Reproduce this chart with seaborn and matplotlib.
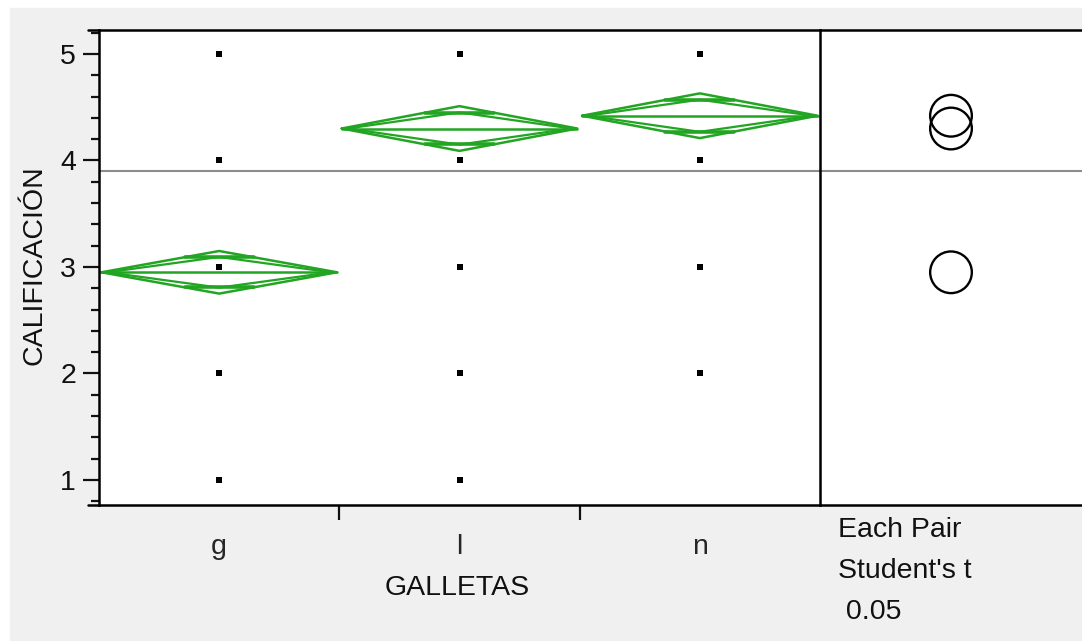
import numpy as np
import pandas as pd
import matplotlib
matplotlib.use('Agg')
import matplotlib.pyplot as plt
import seaborn as sns
from matplotlib.ticker import MultipleLocator
from matplotlib.lines import Line2D
from matplotlib.patches import Rectangle

#==============================================================================
# Data
#==============================================================================
groups = ['g', 'l', 'n']
point_groups = ['g'] * 5 + ['l'] * 5 + ['n'] * 4
point_values = [1, 2, 3, 4, 5, 1, 2, 3, 4, 5, 2, 3, 4, 5]
means = [2.95, 4.30, 4.42]
ci_half = [0.20, 0.21, 0.21]
grand_mean = 3.90
yticks = [1, 2, 3, 4, 5]
test_text = ['Each Pair', "Student's t", ' 0.05']

GREEN = '#22a522'
INK = '#111111'
FS = 20.5
W, H = 1082, 641

#==============================================================================
# Figure
#==============================================================================
sns.set_theme(style='white')
plt.rcParams['font.family'] = ['Liberation Sans', 'DejaVu Sans']
plt.rcParams['text.color'] = INK
plt.rcParams['axes.labelcolor'] = INK

fig = plt.figure(figsize=(W / 100, H / 100), dpi=100)
fig.patch.set_facecolor('white')
fig.add_artist(Rectangle((10 / W, 0), 1, 1 - 8 / H, transform=fig.transFigure,
                         color='#f0f0f0', zorder=-10))

ax = fig.add_axes([99 / W, 1 - 505 / H, (820 - 99) / W, 475 / H])
ax2 = fig.add_axes([820 / W, 1 - 505 / H, 262 / W, 475 / H], sharey=ax)
ax.set_zorder(2)

# raw points
sns.stripplot(x=point_groups, y=point_values, order=groups, jitter=False,
              color='black', marker='s', size=4.2, ax=ax, zorder=5)

# means diamonds
for i, (m, h) in enumerate(zip(means, ci_half)):
    w = 0.49
    ax.plot([i - w, i, i + w, i, i - w], [m, m + h, m, m - h, m], color=GREEN, lw=1.8)
    hi = 0.72 * h
    wi = 0.95 * w
    ax.plot([i - wi, i, i + wi, i, i - wi], [m, m + hi, m, m - hi, m], color=GREEN, lw=1.6)
    ax.plot([i - w, i + w], [m, m], color=GREEN, lw=1.8)
    d = h / np.sqrt(2)
    ow = w * (1 - 1 / np.sqrt(2))
    for s in (1, -1):
        ax.plot([i - ow, i + ow], [m + s * d] * 2, color=GREEN, lw=2.6)

ax.axhline(grand_mean, color='#8c8c8c', lw=1.5, zorder=1)
ax2.axhline(grand_mean, color='#8c8c8c', lw=1.5, zorder=1)

# comparison circles
sns.scatterplot(x=[0.5] * len(means), y=means, ax=ax2, s=900, marker='o',
                facecolor='none', edgecolor='black', linewidth=1.7, legend=False)

#==============================================================================
# Axes styling
#==============================================================================
ax.set_ylim(0.765, 5.225)
ax.set_xlim(-0.5, 2.5)
ax2.set_xlim(0, 1)

ax.set_yticks(yticks)
ax.yaxis.set_minor_locator(MultipleLocator(0.2))
ax.tick_params(axis='y', which='major', left=True, length=11.5, width=1.6,
               direction='out', labelsize=FS, pad=5, colors=INK)
ax.tick_params(axis='y', which='minor', left=True, length=5.8, width=1.6,
               direction='out', colors=INK)
ax.set_xticks([0, 1, 2])
ax.set_xticklabels(groups)
ax.set_xticks([0.5, 1.5], minor=True)
ax.tick_params(axis='x', which='major', bottom=True, length=0, pad=21, labelsize=FS)
ax.tick_params(axis='x', which='minor', bottom=True, length=11, width=1.6,
               direction='out', colors=INK)

for sp in ax.spines.values():
    sp.set_visible(True)
    sp.set_color('black')
    sp.set_linewidth(1.8)
for name, sp in ax2.spines.items():
    sp.set_color('black')
    sp.set_linewidth(1.8)
    sp.set_visible(name in ('top', 'bottom'))
ax2.tick_params(left=False, labelleft=False, bottom=False, labelbottom=False)
ax2.set_xlabel('')
ax2.set_ylabel('')

ax.set_xlabel('GALLETAS', fontsize=FS)
ax.xaxis.set_label_coords(0.4965, -0.175)
ax.xaxis.label.set_va('center')
ax.set_ylabel('CALIFICACIÓN', fontsize=FS)
ax.yaxis.set_label_coords(-0.0888, 0.505)
ax.yaxis.label.set_va('center')

for k, t in enumerate(test_text):
    ax2.text(0.069, -0.053 - k * 0.0865, t, transform=ax2.transAxes,
             va='center', ha='left', fontsize=FS)

# frame lines extending left of the y axis
for yy in (30, 505):
    fig.add_artist(Line2D([88 / W, 99 / W], [1 - yy / H] * 2, color='black', lw=1.8))

fig.savefig('out.png', dpi=100)
